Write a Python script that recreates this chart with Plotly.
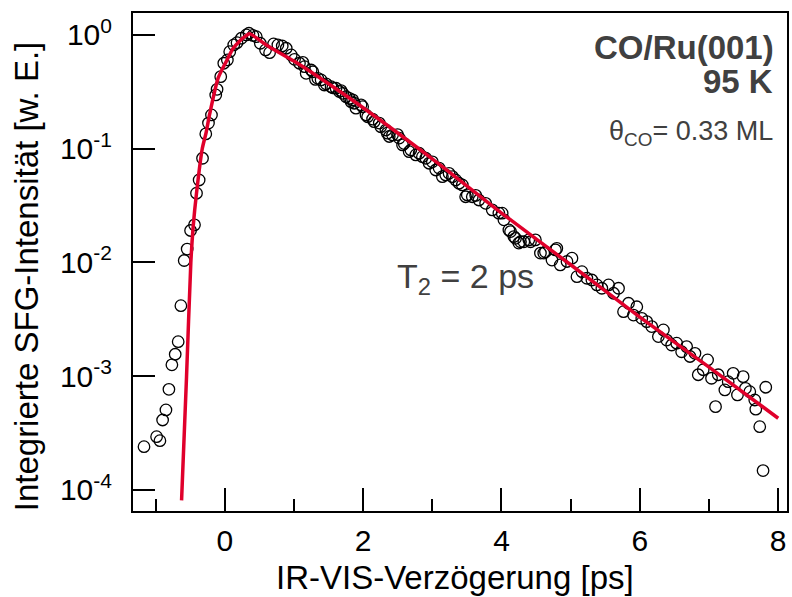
import plotly.graph_objects as go

delay_ps = [
    -1.167, -0.985, -0.937, -0.898, -0.850, -0.807, -0.764, -0.716, -0.673, -0.634,
    -0.586, -0.543, -0.494, -0.437, -0.408, -0.370, -0.321, -0.274, -0.235, -0.192,
    -0.130, -0.111, -0.058, -0.014, 0.038, 0.072, 0.130, 0.178, 0.240, 0.312,
    0.350, 0.408, 0.456, 0.514, 0.590, 0.648, 0.706, 0.768, 0.831, 0.889,
    0.961, 1.009, 1.080, 1.128, 1.153, 1.177, 1.249, 1.273, 1.311, 1.345,
    1.393, 1.440, 1.465, 1.537, 1.561, 1.609, 1.657, 1.681, 1.705, 1.753,
    1.801, 1.825, 1.849, 1.873, 1.897, 1.970, 1.993, 2.042, 2.065, 2.137,
    2.160, 2.233, 2.255, 2.330, 2.350, 2.378, 2.425, 2.497, 2.522, 2.570,
    2.594, 2.666, 2.690, 2.762, 2.810, 2.857, 2.906, 2.954, 3.001, 3.050,
    3.098, 3.146, 3.194, 3.242, 3.290, 3.338, 3.386, 3.434, 3.482, 3.506,
    3.578, 3.627, 3.674, 3.771, 3.866, 3.962, 4.010, 4.035, 4.107, 4.131,
    4.179, 4.203, 4.250, 4.275, 4.323, 4.395, 4.420, 4.490, 4.563, 4.611,
    4.635, 4.730, 4.780, 4.800, 4.850, 4.947, 5.019, 5.091, 5.163, 5.235,
    5.307, 5.379, 5.451, 5.548, 5.620, 5.692, 5.764, 5.836, 5.908, 5.956,
    6.028, 6.100, 6.172, 6.268, 6.340, 6.388, 6.460, 6.532, 6.604, 6.676,
    6.725, 6.797, 6.844, 6.916, 6.979, 7.036, 7.094, 7.133, 7.229, 7.277,
    7.349, 7.411, 7.493, 7.526, 7.589, 7.661, 7.676, 7.733, 7.781, 7.820,
]
sfg_intensity = [
    2.40e-4, 2.94e-4, 2.71e-4, 4.12e-4, 5.05e-4, 7.67e-4, 1.26e-3, 1.56e-3, 2.01e-3, 4.17e-3,
    1.04e-2, 1.31e-2, 1.91e-2, 2.14e-2, 4.06e-2, 5.31e-2, 8.24e-2, 0.135, 0.168, 0.198,
    0.297, 0.333, 0.430, 0.564, 0.603, 0.713, 0.817, 0.855, 0.935, 1.000,
    1.035, 0.990, 0.966, 0.845, 0.738, 0.698, 0.834, 0.817, 0.800, 0.764,
    0.667, 0.611, 0.564, 0.575, 0.526, 0.460, 0.492, 0.475, 0.407, 0.416,
    0.402, 0.363, 0.372, 0.351, 0.343, 0.340, 0.318, 0.324, 0.307, 0.287,
    0.277, 0.259, 0.269, 0.251, 0.227, 0.243, 0.234, 0.198, 0.191, 0.182,
    0.173, 0.168, 0.156, 0.146, 0.137, 0.128, 0.132, 0.133, 0.124, 0.108,
    0.111, 0.0942, 0.0975, 0.0881, 0.0912, 0.0851, 0.0824, 0.0745, 0.0767, 0.0650,
    0.0676, 0.0568, 0.0589, 0.0608, 0.0568, 0.0531, 0.0497, 0.0480, 0.0378, 0.0392,
    0.0378, 0.0389, 0.0354, 0.0331, 0.0290, 0.0271, 0.0271, 0.0237, 0.0193, 0.0187,
    0.0169, 0.0163, 0.0148, 0.0152, 0.0152, 0.0158, 0.0152, 0.0158, 0.0121, 0.0121,
    0.0124, 0.0105, 0.0129, 0.0133, 0.00951, 0.0102, 0.0109, 0.00750, 0.00830, 0.00726,
    0.00701, 0.00634, 0.00593, 0.00634, 0.00536, 0.00593, 0.00369, 0.00438, 0.00345, 0.00408,
    0.00323, 0.00302, 0.00273, 0.00223, 0.00255, 0.00208, 0.00188, 0.00195, 0.00164, 0.00182,
    0.00149, 0.00159, 0.00103, 0.00114, 0.00139, 0.000959, 0.000540, 0.00103, 0.000757, 0.000895,
    0.00106, 0.000684, 0.000991, 0.000783, 0.000731, 0.000618, 0.000513, 0.000360, 0.000148, 0.000800,
]

# ---- fit curve ----
fit_delay_ps = [-0.624, -0.552, -0.490, -0.456, -0.408, -0.325, -0.270, -0.216, -0.096, 0.020,
                0.120, 0.220, 0.300, 0.360, 0.600, 1.000, 1.500, 2.000, 3.000, 4.000,
                5.000, 6.000, 7.000, 8.000]
fit_intensity = [8.1e-5, 1.0e-3, 1.0e-2, 2.07e-2, 4.07e-2, 0.100, 0.138, 0.204, 0.417, 0.582,
                 0.759, 0.891, 0.977, 1.023, 0.817, 0.589, 0.372, 0.229, 0.0813, 0.0272,
                 0.00955, 0.00331, 0.00120, 0.000427]

# ---- axis ticks ----
y_tickvals = [1, 0.1, 0.01, 0.001, 0.0001]
y_ticktext = ["10<sup>0</sup>", "10<sup>-1</sup>", "10<sup>-2</sup>", "10<sup>-3</sup>", "10<sup>-4</sup>"]
x_tickvals = [0, 2, 4, 6, 8]
x_ticktext = ["0", "2", "4", "6", "8"]

FONT = "Liberation Sans, Arial, sans-serif"
GRAY = "#404040"

fig = go.Figure()
fig.add_trace(go.Scatter(
    x=delay_ps, y=sfg_intensity, mode="markers",
    marker=dict(symbol="circle-open", size=11.5, color="black", line=dict(width=1.3, color="black")),
    showlegend=False, hoverinfo="skip",
))
fig.add_trace(go.Scatter(
    x=fit_delay_ps, y=fit_intensity, mode="lines",
    line=dict(color="#e0002b", width=3.5, shape="spline", smoothing=0.6),
    showlegend=False, hoverinfo="skip",
))

fig.update_layout(
    width=792, height=597,
    margin=dict(l=133, r=3, t=13, b=86),
    paper_bgcolor="white", plot_bgcolor="white",
    font=dict(family=FONT, color="black", size=30),
    xaxis=dict(
        range=[-1.326, 8.127], showgrid=False, zeroline=False,
        showline=True, linewidth=2, linecolor="black", mirror=True,
        ticks="inside", ticklen=23, tickwidth=2, tickcolor="black",
        tickvals=x_tickvals, ticktext=x_ticktext,
        tickfont=dict(size=30, family=FONT, color="black"),
        ticklabelstandoff=2,
        minor=dict(dtick=1, tick0=0, ticks="inside", ticklen=12, tickwidth=2, tickcolor="black"),
    ),
    yaxis=dict(
        type="log", range=[-4.185, 0.193], showgrid=False, zeroline=False,
        showline=True, linewidth=2, linecolor="black", mirror=True,
        ticks="inside", ticklen=22, tickwidth=2, tickcolor="black",
        tickvals=y_tickvals, ticktext=y_ticktext,
        tickfont=dict(size=30, family=FONT, color="black"),
        ticklabelstandoff=13,
    ),
)

annotations = [
    dict(text="IR-VIS-Verzögerung [ps]", x=0.492, y=-0.1345, xref="paper", yref="paper",
         xanchor="center", yanchor="middle", showarrow=False,
         font=dict(size=33, family=FONT, color="black")),
    dict(text="Integrierte SFG-Intensität [w. E.]", x=(27 - 133) / 656, y=0.472,
         xref="paper", yref="paper", textangle=-90,
         xanchor="center", yanchor="middle", showarrow=False,
         font=dict(size=33, family=FONT, color="black")),
    dict(text="<b>CO/Ru(001)</b>", x=(778 - 133) / 656, y=(511 - 48) / 498,
         xref="paper", yref="paper", xanchor="right", yanchor="middle", showarrow=False,
         font=dict(size=33, family=FONT, color=GRAY)),
    dict(text="<b>95 K</b>", x=(777 - 133) / 656, y=(511 - 82) / 498,
         xref="paper", yref="paper", xanchor="right", yanchor="middle", showarrow=False,
         font=dict(size=33, family=FONT, color=GRAY)),
    dict(text="θ<sub>CO</sub>= 0.33 ML", x=(777 - 133) / 656, y=(511 - 133) / 498,
         xref="paper", yref="paper", xanchor="right", yanchor="middle", showarrow=False,
         font=dict(size=27, family=FONT, color=GRAY)),
    dict(text="T<sub>2</sub> = 2 ps", x=(467 - 133) / 656, y=(511 - 278) / 498,
         xref="paper", yref="paper", xanchor="center", yanchor="middle", showarrow=False,
         font=dict(size=34, family=FONT, color=GRAY)),
]
fig.update_layout(annotations=annotations)

fig.write_html("out.html", config={"displayModeBar": False},
               post_script="document.body.style.margin='0';")
